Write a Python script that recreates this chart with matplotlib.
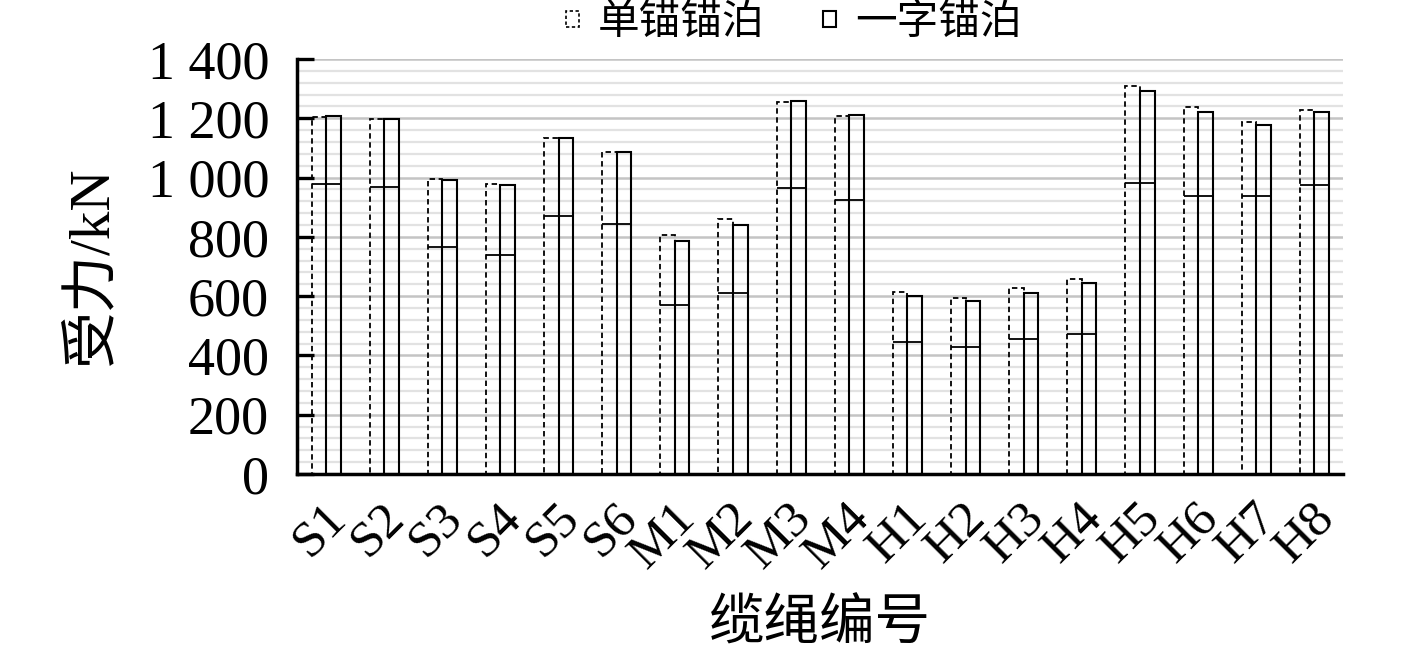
import matplotlib
matplotlib.use("Agg")
import matplotlib.pyplot as plt
import matplotlib.transforms as mtransforms
from matplotlib.patches import Rectangle
from matplotlib.ticker import MultipleLocator, FixedLocator
import numpy as np

categories = ["S1", "S2", "S3", "S4", "S5", "S6", "M1", "M2", "M3", "M4",
              "H1", "H2", "H3", "H4", "H5", "H6", "H7", "H8"]
single_anchor = [1205, 1198, 995, 978, 1133, 1088, 806, 860, 1255, 1208,
                 613, 595, 627, 658, 1308, 1238, 1186, 1228]
line_anchor = [1208, 1198, 992, 975, 1133, 1088, 786, 840, 1258, 1210,
               600, 582, 612, 643, 1292, 1222, 1177, 1221]
inner_level = [980, 968, 766, 738, 871, 845, 570, 610, 966, 925,
               447, 427, 454, 472, 981, 937, 937, 975]
series_names = ["单锚锚泊", "一字锚泊"]
ytick_values = [0, 200, 400, 600, 800, 1000, 1200, 1400]
ytick_labels = ["0", "200", "400", "600", "800", "1 000", "1 200", "1 400"]

SERIF = ["Liberation Serif", "Noto Sans CJK SC"]
CJK = ["Noto Sans CJK SC", "DejaVu Sans"]

fig = plt.figure(figsize=(14.17, 6.55), dpi=100)
ax = fig.add_axes([0.2096, 0.2763, 0.7385, 0.6336])

x = np.arange(len(categories))
w = 0.25
ax.bar(x - w / 2, single_anchor, width=w, fill=False, edgecolor="black",
       linewidth=1.3, linestyle=(0, (3, 2)), zorder=3)
ax.bar(x + w / 2, line_anchor, width=w, fill=False, edgecolor="black",
       linewidth=1.5, zorder=3)
ax.hlines(inner_level, x - w, x + w, colors="black", linewidth=1.3, zorder=4)

ax.set_xlim(-0.5, len(categories) - 0.5)
ax.set_ylim(0, 1400)

ax.yaxis.set_major_locator(FixedLocator(ytick_values))
ax.set_yticklabels(ytick_labels, fontsize=39, family=SERIF)
ax.yaxis.set_minor_locator(MultipleLocator(40))
ax.grid(True, which="major", axis="y", color="#c4c4c4", linewidth=1.8, zorder=0)
ax.grid(True, which="minor", axis="y", color="#e2e2e2", linewidth=1.6, zorder=0)
ax.tick_params(axis="y", which="major", direction="in", length=12, width=2.4, pad=20)
ax.tick_params(axis="y", which="minor", length=0)

# x category labels (rotated, anchored at their upper-right end)
ax.set_xticks(x)
ax.set_xticklabels([""] * len(categories))
ax.tick_params(axis="x", length=0)
label_tf = ax.get_xaxis_transform() + mtransforms.ScaledTranslation(
    13 / 100, -37 / 100, fig.dpi_scale_trans)
for xi, name in zip(x, categories):
    ax.text(xi, 0, name, transform=label_tf, fontsize=37, family=SERIF,
            rotation=45, ha="right", va="center", rotation_mode="anchor",
            clip_on=False)

for s in ["top", "right"]:
    ax.spines[s].set_visible(False)
for s in ["left", "bottom"]:
    ax.spines[s].set_linewidth(2.5)

ax.set_ylabel("受力/kN", fontsize=41, family=SERIF, labelpad=20)
ax.text(0.5, -0.362, "缆绳编号", transform=ax.transAxes, fontsize=40,
        family=CJK, ha="center", va="center")

h1 = Rectangle((0, 0), 1, 1, fill=False, edgecolor="black", linewidth=1.2,
               linestyle=(0, (2, 1.5)))
h2 = Rectangle((0, 0), 1, 1, fill=False, edgecolor="black", linewidth=1.5)
leg = fig.legend([h1, h2], series_names, loc="center", bbox_to_anchor=(0.56, 0.966),
                 ncol=2, frameon=False, prop={"family": CJK, "size": 30},
                 handlelength=0.32, handleheight=0.22, handletextpad=0.45,
                 columnspacing=1.4)

fig.savefig("out.png", dpi=100, facecolor="white")
